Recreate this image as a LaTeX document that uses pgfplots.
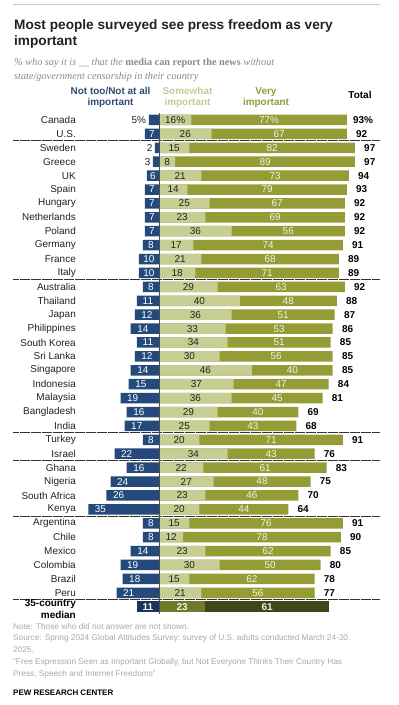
\documentclass[border=0pt]{standalone}
\usepackage{fontspec}
\setmainfont{Liberation Sans}
\newfontfamily\subfont{Liberation Serif}
\usepackage{pgfplots}
\usepackage{pgfplotstable}
\pgfplotsset{compat=1.18}

\definecolor{navy}{HTML}{234A7B}
\definecolor{lightg}{HTML}{C7CE93}
\definecolor{oliveg}{HTML}{959B35}
\definecolor{mnavy}{HTML}{1B365D}
\definecolor{mlight}{HTML}{6F7A28}
\definecolor{mdark}{HTML}{3F4718}
\definecolor{hnavy}{HTML}{2E4A72}
\definecolor{hlight}{HTML}{C5CB96}
\definecolor{holive}{HTML}{8E9A3C}
\definecolor{txt}{HTML}{222222}
\definecolor{subgray}{HTML}{8A8A8A}
\definecolor{footgray}{HTML}{A8A8A8}
\definecolor{rulegray}{HTML}{C8C8C8}
\definecolor{darklab}{HTML}{F2F3E4}

\pgfplotstableread{
y name n s v t
0 Canada 5 16 77 93
1 U.S. 7 26 67 92
2 Sweden 2 15 82 97
3 Greece 3 8 89 97
4 UK 6 21 73 94
5 Spain 7 14 79 93
6 Hungary 7 25 67 92
7 Netherlands 7 23 69 92
8 Poland 7 36 56 92
9 Germany 8 17 74 91
10 France 10 21 68 89
11 Italy 10 18 71 89
12 Australia 8 29 63 92
13 Thailand 11 40 48 88
14 Japan 12 36 51 87
15 Philippines 14 33 53 86
16 {South Korea} 11 34 51 85
17 {Sri Lanka} 12 30 56 85
18 Singapore 14 46 40 85
19 Indonesia 15 37 47 84
20 Malaysia 19 36 45 81
21 Bangladesh 16 29 40 69
22 India 17 25 43 68
23 Turkey 8 20 71 91
24 Israel 22 34 43 76
25 Ghana 16 22 61 83
26 Nigeria 24 27 48 75
27 {South Africa} 26 23 46 70
28 Kenya 35 20 44 64
29 Argentina 8 15 76 91
30 Chile 8 12 78 90
31 Mexico 14 23 62 85
32 Colombia 19 30 50 80
33 Brazil 18 15 62 78
34 Peru 21 21 56 77
}\datatab

\newcommand\lab{\fontsize{10}{12}\selectfont}

\begin{document}
\begin{tikzpicture}
\begin{axis}[
  at={(0,0)}, anchor=south west,
  width=399bp, height=705bp, scale only axis,
  xmin=-78.713, xmax=118.812,
  ymin=-8.629, ymax=42.068, y dir=reverse,
  hide axis, clip=false,
  nodes near coords align=center,
]
% separators
\foreach \yy in {1.5,11.5,22.5,24.5,28.5,34.5}{
  \edef\tmp{\noexpand\draw[color=black!80, line width=1bp, dash pattern=on 0.55bp off 0.55bp] (axis cs:-72.3,\yy) -- (axis cs:109.4,\yy);}
  \tmp
}
% bars
\addplot[xbar, bar width=10.5bp, bar shift=0pt, fill=navy, draw=none] table[x expr=-\thisrow{n}, y=y] \datatab;
\addplot[xbar, bar width=10.5bp, bar shift=0pt, fill=oliveg, draw=none] table[x expr=\thisrow{s}+\thisrow{v}, y=y] \datatab;
\addplot[xbar, bar width=10.5bp, bar shift=0pt, fill=lightg, draw=none] table[x=s, y=y] \datatab;
% median bars
\addplot[xbar, bar width=10.5bp, bar shift=0pt, fill=mnavy, draw=none] coordinates {(-11,35)};
\addplot[xbar, bar width=10.5bp, bar shift=0pt, fill=mdark, draw=none] coordinates {(84,35)};
\addplot[xbar, bar width=10.5bp, bar shift=0pt, fill=mlight, draw=none] coordinates {(23,35)};
% zero line
\addplot[color=black!70, line width=0.8bp, mark=none] coordinates {(0,-0.5) (0,35.52)};

% country names
\addplot[draw=none, mark=none, nodes near coords, point meta=explicit symbolic,
  every node near coord/.append style={anchor=east, inner sep=0pt, font=\lab, text=txt}]
  table[x expr=-41.09, y=y, meta=name] \datatab;
% left labels inside
\addplot[draw=none, mark=none, nodes near coords, point meta=explicit symbolic,
  restrict expr to domain={\thisrow{n}}{6:100},
  every node near coord/.append style={inner sep=0pt, font=\lab, text=white}]
  table[x expr={-max(\thisrow{n}/2,\thisrow{n}-6)}, y=y, meta=n] \datatab;
% left labels outside
\addplot[draw=none, mark=none, nodes near coords, point meta=explicit symbolic,
  every node near coord/.append style={anchor=east, inner sep=0pt, font=\lab, text=txt}]
  coordinates {(-6.3,0) [5\%] (-3.2,2) [2] (-4.2,3) [3]};
% light labels
\addplot[draw=none, mark=none, nodes near coords, point meta=explicit symbolic,
  restrict expr to domain={\thisrow{y}}{1:40},
  every node near coord/.append style={inner sep=0pt, font=\lab, text=txt}]
  table[x expr={\thisrow{s}/2}, y=y, meta=s] \datatab;
% dark labels
\addplot[draw=none, mark=none, nodes near coords, point meta=explicit symbolic,
  restrict expr to domain={\thisrow{y}}{1:40},
  every node near coord/.append style={inner sep=0pt, font=\lab, text=darklab}]
  table[x expr={\thisrow{s}+\thisrow{v}/2}, y=y, meta=v] \datatab;
% totals
\addplot[draw=none, mark=none, nodes near coords, point meta=explicit symbolic,
  restrict expr to domain={\thisrow{y}}{1:40},
  every node near coord/.append style={anchor=west, inner sep=0pt, font=\lab\bfseries, text=black}]
  table[x expr={\thisrow{s}+\thisrow{v}+4.5}, y=y, meta=t] \datatab;
% Canada labels with percent
\addplot[draw=none, mark=none, nodes near coords, point meta=explicit symbolic,
  every node near coord/.append style={inner sep=0pt, font=\lab, text=txt}]
  coordinates {(8,0) [16\%]};
\addplot[draw=none, mark=none, nodes near coords, point meta=explicit symbolic,
  every node near coord/.append style={inner sep=0pt, font=\lab, text=darklab}]
  coordinates {(54.5,0) [77\%]};
\addplot[draw=none, mark=none, nodes near coords, point meta=explicit symbolic,
  every node near coord/.append style={anchor=west, inner sep=0pt, font=\lab\bfseries, text=black}]
  coordinates {(96,0) [93\%]};
% median labels
\addplot[draw=none, mark=none, nodes near coords, point meta=explicit symbolic,
  every node near coord/.append style={inner sep=0pt, font=\lab\bfseries, text=white}]
  coordinates {(-5.5,35) [11]};
\addplot[draw=none, mark=none, nodes near coords, point meta=explicit symbolic,
  every node near coord/.append style={inner sep=0pt, font=\lab\bfseries, text=darklab}]
  coordinates {(11.5,35) [23] (53.5,35) [61]};
\end{axis}

% top rule
\draw[rulegray, line width=1bp] (13bp,700.5bp) -- (380bp,700.5bp);
% title
\node[anchor=base west, inner sep=0pt, text=txt, font=\fontsize{13.7}{16}\selectfont\bfseries] at (14bp,675.7bp) {Most people surveyed see press freedom as very};
\node[anchor=base west, inner sep=0pt, text=txt, font=\fontsize{13.7}{16}\selectfont\bfseries] at (14bp,659.3bp) {important};
% subtitle
\node[anchor=base west, inner sep=0pt, text=subgray, font=\subfont\fontsize{10.3}{12}\selectfont\itshape] at (14bp,639.7bp) {\% who say it is \_\_ that the {\upshape\bfseries media can report the news} without};
\node[anchor=base west, inner sep=0pt, text=subgray, font=\subfont\fontsize{10.3}{12}\selectfont\itshape] at (14bp,625bp) {state/government censorship in their country};
% headers
\node[anchor=base, inner sep=0pt, text=hnavy, font=\lab\bfseries] at (110.5bp,610bp) {Not too/Not at all};
\node[anchor=base, inner sep=0pt, text=hnavy, font=\lab\bfseries] at (110.5bp,599bp) {important};
\node[anchor=base, inner sep=0pt, text=hlight, font=\lab\bfseries] at (187.5bp,610bp) {Somewhat};
\node[anchor=base, inner sep=0pt, text=hlight, font=\lab\bfseries] at (187.5bp,599bp) {important};
\node[anchor=base, inner sep=0pt, text=holive, font=\lab\bfseries] at (266bp,610bp) {Very};
\node[anchor=base, inner sep=0pt, text=holive, font=\lab\bfseries] at (266bp,599bp) {important};
\node[anchor=base, inner sep=0pt, text=black, font=\lab\bfseries] at (360bp,606.3bp) {Total};
% median label
\node[anchor=base east, inner sep=0pt, text=black, font=\lab\bfseries] at (76bp,98.5bp) {35-country};
\node[anchor=base east, inner sep=0pt, text=black, font=\lab\bfseries] at (76bp,86bp) {median};
% footer
\node[anchor=base west, inner sep=0pt, text=footgray, font=\fontsize{8.3}{10}\selectfont] at (13bp,75.5bp) {Note: Those who did not answer are not shown.};
\node[anchor=base west, inner sep=0pt, text=footgray, font=\fontsize{8.3}{10}\selectfont] at (13bp,64.5bp) {Source: Spring 2024 Global Attitudes Survey; survey of U.S. adults conducted March 24-30,};
\node[anchor=base west, inner sep=0pt, text=footgray, font=\fontsize{8.3}{10}\selectfont] at (13bp,52bp) {2025.};
\node[anchor=base west, inner sep=0pt, text=footgray, font=\fontsize{8.3}{10}\selectfont] at (13bp,40bp) {“Free Expression Seen as Important Globally, but Not Everyone Thinks Their Country Has};
\node[anchor=base west, inner sep=0pt, text=footgray, font=\fontsize{8.3}{10}\selectfont] at (13bp,28.5bp) {Press, Speech and Internet Freedoms”};
\node[anchor=base west, inner sep=0pt, text=black, font=\fontsize{8}{10}\selectfont\bfseries] at (13bp,10bp) {PEW RESEARCH CENTER};

\pgfresetboundingbox
\useasboundingbox (0,0) rectangle (399bp,705bp);
\end{tikzpicture}
\end{document}
